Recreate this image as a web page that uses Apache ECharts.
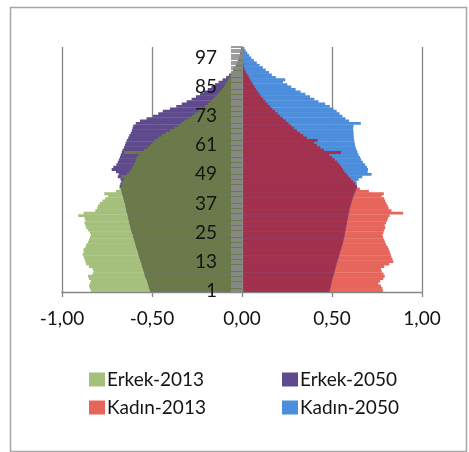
<!DOCTYPE html>
<html>
<head>
<meta charset="utf-8">
<script src="https://cdn.jsdelivr.net/npm/echarts@6/dist/echarts.min.js"></script>
<style>
  html, body { margin: 0; padding: 0; background: #ffffff; }
  #chart { width: 469px; height: 452px; }
</style>
</head>
<body>
<div id="chart"></div>
<script>
// Age categories (1 = first single-year age group)
const ageCategories = [
  '1','2','3','4','5','6','7','8','9','10','11','12','13','14','15','16','17','18','19','20',
  '21','22','23','24','25','26','27','28','29','30','31','32','33','34','35','36','37','38','39','40',
  '41','42','43','44','45','46','47','48','49','50','51','52','53','54','55','56','57','58','59','60',
  '61','62','63','64','65','66','67','68','69','70','71','72','73','74','75','76','77','78','79','80',
  '81','82','83','84','85','86','87','88','89','90','91','92','93','94','95','96','97','98','99','100','101'
];

// Value axis tick values
const valueTicks = [-1, -0.5, 0, 0.5, 1];

// Share of population (%) by single age – males are negative
const erkek2013 = [
  -0.840,-0.845,-0.850,-0.845,-0.840,-0.850,-0.855,-0.830,-0.825,-0.830,
  -0.850,-0.865,-0.870,-0.875,-0.880,-0.885,-0.880,-0.880,-0.870,-0.865,
  -0.855,-0.850,-0.845,-0.840,-0.845,-0.855,-0.865,-0.870,-0.875,-0.870,
  -0.875,-0.910,-0.880,-0.815,-0.805,-0.800,-0.790,-0.775,-0.760,-0.745,
  -0.765,-0.700,-0.680,-0.670,-0.668,-0.662,-0.655,-0.670,-0.640,-0.628,
  -0.615,-0.610,-0.600,-0.595,-0.590,-0.585,-0.575,-0.655,-0.545,-0.525,
  -0.510,-0.498,-0.485,-0.465,-0.445,-0.425,-0.400,-0.378,-0.355,-0.338,
  -0.320,-0.300,-0.280,-0.260,-0.240,-0.222,-0.205,-0.190,-0.175,-0.162,
  -0.150,-0.138,-0.125,-0.112,-0.100,-0.092,-0.085,-0.078,-0.070,-0.064,
  -0.058,-0.050,-0.044,-0.036,-0.030,-0.024,-0.018,-0.013,-0.009,-0.006,
  -0.004
];

const erkek2050 = [
  -0.510,-0.514,-0.518,-0.522,-0.527,-0.531,-0.537,-0.541,-0.545,-0.549,
  -0.553,-0.557,-0.562,-0.566,-0.570,-0.574,-0.578,-0.582,-0.586,-0.590,
  -0.594,-0.598,-0.602,-0.606,-0.610,-0.614,-0.618,-0.622,-0.625,-0.628,
  -0.631,-0.634,-0.637,-0.641,-0.644,-0.647,-0.650,-0.654,-0.657,-0.661,
  -0.665,-0.668,-0.672,-0.680,-0.676,-0.670,-0.675,-0.690,-0.685,-0.700,
  -0.724,-0.715,-0.698,-0.690,-0.684,-0.678,-0.674,-0.668,-0.664,-0.656,
  -0.650,-0.646,-0.640,-0.632,-0.626,-0.618,-0.612,-0.608,-0.604,-0.590,
  -0.567,-0.530,-0.494,-0.465,-0.440,-0.400,-0.365,-0.335,-0.307,-0.280,
  -0.256,-0.233,-0.212,-0.190,-0.170,-0.150,-0.130,-0.108,-0.088,-0.072,
  -0.058,-0.047,-0.038,-0.031,-0.025,-0.020,-0.016,-0.012,-0.009,-0.007,
  -0.005
];

const kadin2013 = [
  0.783,0.780,0.772,0.758,0.768,0.785,0.793,0.786,0.776,0.772,
  0.790,0.818,0.840,0.836,0.830,0.826,0.821,0.815,0.810,0.801,
  0.795,0.790,0.784,0.781,0.786,0.790,0.796,0.793,0.800,0.806,
  0.812,0.820,0.895,0.830,0.815,0.810,0.802,0.796,0.790,0.776,
  0.788,0.705,0.655,0.638,0.628,0.617,0.605,0.592,0.582,0.570,
  0.560,0.552,0.542,0.530,0.515,0.500,0.485,0.550,0.455,0.435,
  0.415,0.400,0.420,0.360,0.340,0.322,0.305,0.288,0.273,0.258,
  0.243,0.228,0.212,0.198,0.183,0.168,0.155,0.142,0.130,0.118,
  0.107,0.097,0.088,0.078,0.070,0.062,0.054,0.046,0.038,0.030,
  0.022,0.016,0.012,0.009,0.007,0.005,0.004,0.003,0.002,0.002,
  0.001
];

const kadin2050 = [
  0.487,0.490,0.493,0.496,0.499,0.502,0.506,0.510,0.514,0.518,
  0.521,0.525,0.529,0.533,0.537,0.541,0.545,0.549,0.553,0.557,
  0.561,0.564,0.567,0.570,0.572,0.575,0.577,0.580,0.583,0.585,
  0.588,0.590,0.593,0.596,0.598,0.602,0.606,0.610,0.614,0.618,
  0.624,0.630,0.636,0.640,0.638,0.636,0.648,0.668,0.720,0.698,
  0.700,0.694,0.684,0.672,0.662,0.656,0.648,0.642,0.637,0.632,
  0.628,0.626,0.623,0.621,0.620,0.620,0.619,0.617,0.620,0.660,
  0.595,0.575,0.558,0.542,0.526,0.508,0.488,0.462,0.425,0.402,
  0.378,0.352,0.326,0.298,0.274,0.252,0.228,0.240,0.188,0.166,
  0.150,0.132,0.116,0.098,0.082,0.066,0.052,0.040,0.030,0.020,
  0.013
];

// Colours: each year alone, plus the shade where both years overlap
const colors = {
  erkek2013: '#a5bf7d',
  erkek2050: '#5e4a8c',
  erkekOrtak: '#6c7a4b',
  kadin2013: '#e6665c',
  kadin2050: '#4d8edc',
  kadinOrtak: '#a2314e'
};

// Overlap band = the smaller magnitude of the two years
const erkekOrtak = erkek2013.map((v, i) => Math.max(v, erkek2050[i]));
const kadinOrtak = kadin2013.map((v, i) => Math.min(v, kadin2050[i]));

const FONT = 'Lato, "Liberation Sans", sans-serif';
const TEXT = '#141414';
const fmt = v => v.toFixed(2).replace('.', ',');

function barSeries(name, data, color) {
  return {
    type: 'bar',
    name: name,
    data: data,
    barGap: '-100%',
    // slightly wider than the band so neighbouring bars meet without seams
    barWidth: '118%',
    itemStyle: { color: color },
    emphasis: { disabled: true },
    animation: false
  };
}

function legendAt(name, left, top) {
  return {
    data: [name],
    left: left,
    top: top,
    padding: 0,
    icon: 'rect',
    itemWidth: 16,
    itemHeight: 14,
    selectedMode: false,
    textStyle: { fontFamily: FONT, fontSize: 19, color: TEXT, padding: [0, 0, 0, -3] }
  };
}

const chart = echarts.init(document.getElementById('chart'), null, { renderer: 'canvas' });

const gridLeft = 62, gridRight = 47;
const plotWidth = 469 - gridLeft - gridRight;

chart.setOption({
  backgroundColor: '#ffffff',
  animation: false,
  grid: { left: gridLeft, right: gridRight, top: 47, bottom: 160, containLabel: false, outerBoundsMode: 'none' },
  xAxis: {
    type: 'value',
    min: valueTicks[0],
    max: valueTicks[valueTicks.length - 1],
    interval: 0.5,
    axisLine: { show: true, lineStyle: { color: '#868686', width: 1.3 } },
    axisTick: { show: true, length: 5, lineStyle: { color: '#868686', width: 1.3 } },
    axisLabel: { formatter: fmt, fontFamily: FONT, fontSize: 19, color: TEXT, margin: 17 },
    splitLine: {
      show: true,
      lineStyle: { color: '#868686', width: 1.3 }
    }
  },
  yAxis: {
    type: 'category',
    data: ageCategories,
    position: 'left',
    // shift the category axis from the plot's left edge to the 0 line
    offset: -plotWidth / 2,
    z: 5,
    axisLine: { show: true, onZero: false, lineStyle: { color: '#868686', width: 1.3 } },
    axisTick: { show: true, interval: 0, length: 11, lineStyle: { color: '#8c8c8c', width: 1.7 } },
    axisLabel: { interval: 11, fontFamily: FONT, fontSize: 19, color: TEXT, margin: 25 },
    splitLine: { show: false }
  },
  legend: [
    legendAt('Erkek-2013', 89, 370),
    legendAt('Erkek-2050', 282, 370),
    legendAt('Kadın-2013', 89, 398),
    legendAt('Kadın-2050', 282, 398)
  ],
  series: [
    barSeries('Erkek-2013', erkek2013, colors.erkek2013),
    barSeries('Erkek-2050', erkek2050, colors.erkek2050),
    barSeries('Erkek ortak', erkekOrtak, colors.erkekOrtak),
    barSeries('Kadın-2013', kadin2013, colors.kadin2013),
    barSeries('Kadın-2050', kadin2050, colors.kadin2050),
    barSeries('Kadın ortak', kadinOrtak, colors.kadinOrtak)
  ],
  graphic: [{
    type: 'rect',
    left: 8,
    top: 5,
    shape: { width: 456, height: 444 },
    style: { fill: 'none', stroke: '#a6a6a6', lineWidth: 1.5 },
    silent: true
  }]
});
</script>
</body>
</html>
